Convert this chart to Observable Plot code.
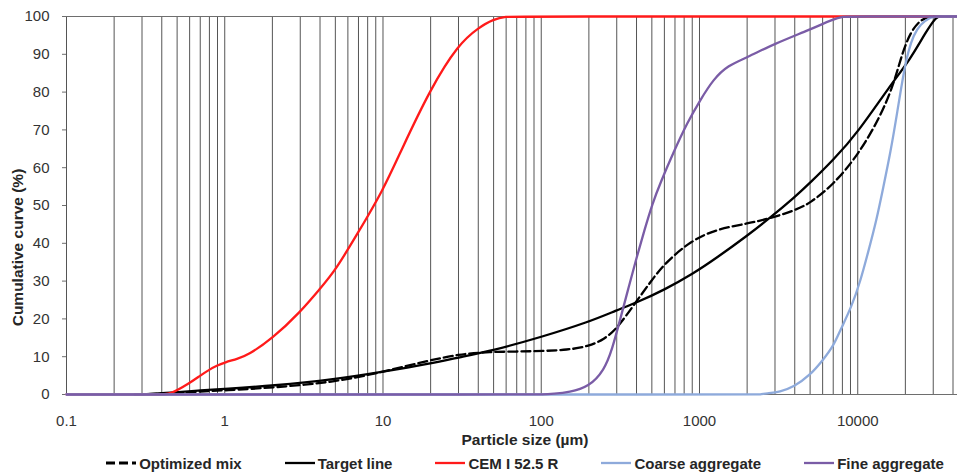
<!DOCTYPE html>
<html>
<head>
<meta charset="utf-8">
<script src="https://cdn.jsdelivr.net/npm/d3@7"></script>
<script src="https://cdn.jsdelivr.net/npm/@observablehq/plot@0.6"></script>
<style>
  body { margin: 0; background: #fff; font-family: "Liberation Sans", Arial, sans-serif; }
  #chart svg { display: block; }
  .legend { display: flex; justify-content: center; align-items: center; gap: 43px; height: 22px; width: 957px;
            box-sizing: border-box; padding-left: 93px; font-weight: bold; font-size: 15px; color: #262626; }
  .item { display: flex; align-items: center; gap: 3px; white-space: nowrap; }
  .item svg { display: block; }
</style>
</head>
<body>
<div id="chart"></div>
<div class="legend" id="legend"></div>
<script>
// ---- data (particle size in µm, cumulative passing in %) ----
const optimizedMix = [
  [0.27,0],[0.3,0],[0.5,0.4],[0.7,0.8],[1,1.1],[2,1.8],[5,3.3],[10,6],[20,9.1],[30,10.6],[45,11.3],
  [90,11.4],[150,11.8],[200,12.8],[250,14.6],[300,17.4],[390,24],[490,29.8],[600,34.6],[880,40.7],
  [1300,43.8],[2000,45.2],[2750,46.5],[4000,48.7],[5000,50.6],[7000,55.5],[10000,63.2],
  [14000,73.7],[17000,82.5],[19000,90],[21600,96],[25000,99.2],[28500,100],[31000,100],[34000,100],[42700,100]
];
const targetLine = [
  [0.27,0],[0.3,0],[0.5,0.6],[0.7,1.1],[1,1.5],[2,2.3],[5,4],[10,6],[20,8.2],[30,9.8],[50,11.7],[100,15.2],
  [200,19.2],[300,22.3],[400,24.3],[600,27.7],[900,31.8],[1300,36.3],[2000,42],[2750,46.5],
  [4000,52.2],[5000,56],[7000,62],[10000,69.3],[16000,81.7],[21500,88.7],[27000,96],[31500,100],[33000,100],[42700,100]
];
const cemI525R = [
  [0.1,0],[0.4,0],[0.45,0],[0.6,3],[0.7,5],[0.8,6.6],[0.9,7.7],[1,8.5],[1.2,9.4],[1.4,10.4],[2,14.8],[3,21.8],[4,28],[5,32.8],[7,43],
  [10,54],[13,64.5],[20,81],[30,92.7],[40,97],[50,99.3],[60,100],[70,100],[42700,100]
];
const coarseAggregate = [
  [0.1,0],[2300,0],[2400,0],[2650,0.3],[3230,0.7],[3950,2],[4990,5.1],[6000,9],[7060,13],[7750,17],
  [9100,23],[10400,30],[11690,38],[13120,46],[14530,55],[16100,64],[17830,75],[19460,85],
  [20920,91],[22490,95],[24900,98],[28770,99.8],[31000,100],[33000,100],[42700,100]
];
const fineAggregate = [
  [0.1,0],[90,0],[100,0],[120,0.2],[150,0.6],[200,2],[250,6.4],[281,12],[316,20],[355,28],[399,36],
  [449,43.5],[504,50.5],[566,56],[684,64],[839,72],[1014,78],[1225,83.4],[1503,87],[2011,89.2],
  [2937,92.7],[5035,96.6],[7000,99.3],[8140,100],[9000,100],[42700,100]
];
const seriesNames = ["Optimized mix", "Target line", "CEM I 52.5 R", "Coarse aggregate", "Fine aggregate"];
const seriesValues = [optimizedMix, targetLine, cemI525R, coarseAggregate, fineAggregate];
const seriesColors = ["#000000", "#000000", "#ff1a1a", "#8eaadb", "#7a5ca6"];
const seriesDash = ["9,4", null, null, null, null];

const xTicks = [0.1, 1, 10, 100, 1000, 10000];
const yTicks = [0, 10, 20, 30, 40, 50, 60, 70, 80, 90, 100];
const gridMantissas = [1, 2, 3, 4, 5, 6, 7, 8, 9];
const xMax = 42700;
const xTitle = "Particle size (µm)";
const yTitle = "Cumulative curve (%)";

const gridValues = xTicks.flatMap(d => gridMantissas.map(m => m * d)).filter(v => v <= xMax);

const rows = seriesNames.flatMap((name, i) => seriesValues[i].map(([size, pct]) => ({series: name, size, pct})));

const lineMarks = seriesNames.map((name, i) =>
  Plot.line(rows.filter(r => r.series === name), {
    x: "size", y: "pct", stroke: seriesColors[i], strokeWidth: 2.3,
    strokeDasharray: seriesDash[i] ?? undefined, curve: "basis"
  })
);

const chart = Plot.plot({
  width: 957,
  height: 452,
  marginLeft: 66,
  marginRight: 0,
  marginTop: 16,
  marginBottom: 58,
  style: {fontFamily: "'Liberation Sans', Arial, sans-serif", fontSize: "15px", color: "#333", background: "#fff"},
  x: {type: "log", domain: [0.1, xMax]},
  y: {domain: [0, 100]},
  marks: [
    Plot.ruleX(gridValues, {y1: 0, y2: 100, stroke: "#555", strokeWidth: 1}),
    Plot.ruleY([0, 100], {stroke: "#6e6e6e", strokeWidth: 1.2}),
    Plot.axisX(xTicks, {tickSize: 0, tickPadding: 21, tickFormat: d => String(d), label: null}),
    Plot.axisY(yTicks, {tickSize: 4, tickPadding: 13, stroke: "#6e6e6e", label: null}),
    ...lineMarks,
    Plot.text([xTitle], {frameAnchor: "bottom", dx: 13, dy: 46, lineAnchor: "middle", fontWeight: "bold", fontSize: 15.5, fill: "#262626"}),
    Plot.text([yTitle], {frameAnchor: "left", textAnchor: "middle", rotate: -90, dx: -48, dy: 42, lineAnchor: "middle", fontWeight: "bold", fontSize: 15.5, fill: "#262626"})
  ]
});
document.getElementById("chart").append(chart);

// legend
const legend = document.getElementById("legend");
seriesNames.forEach((name, i) => {
  const item = document.createElement("div");
  item.className = "item";
  const dash = seriesDash[i] ? ` stroke-dasharray="${seriesDash[i]}"` : "";
  item.innerHTML = `<svg width="30" height="10"><line x1="0" y1="5" x2="30" y2="5" stroke="${seriesColors[i]}" stroke-width="${seriesDash[i] ? 2.8 : 2.3}"${dash}/></svg><span>${name}</span>`;
  legend.append(item);
});
</script>
</body>
</html>
